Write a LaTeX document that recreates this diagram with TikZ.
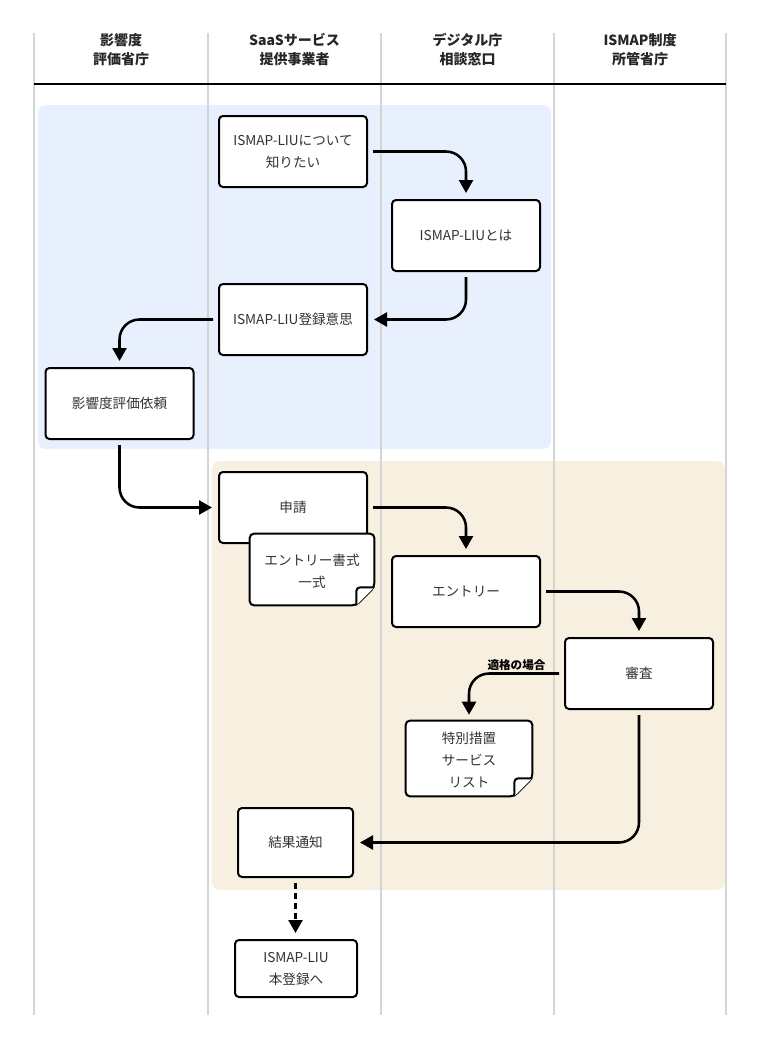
\documentclass[tikz,border=0pt]{standalone}
\usepackage{fontspec}
\setmainfont{Noto Sans CJK JP}
\usetikzlibrary{arrows.meta}
\newdimen\px \px=0.75pt
\definecolor{lanegray}{HTML}{D4D4D4}
\definecolor{phaseblue}{HTML}{E7F0FC}
\definecolor{phasetan}{HTML}{F7EFDF}
\definecolor{textgray}{HTML}{333333}

\begin{document}
\begin{tikzpicture}[x=0.75pt, y=-0.75pt,
>={Triangle[width=10.5pt,length=9.75pt]},
lanehead/.style={font=\fontsize{10.5pt}{14.3pt}\selectfont\bfseries, text=black!85, align=center},
every node/.style={font=\fontsize{10.2pt}{16.5pt}\selectfont, text=textgray, align=center}]
\tikzstyle{box} = [draw=black, fill=white, line width=1.5pt, rounded corners=4\px, minimum width=148\px, minimum height=71\px, inner sep=0pt]
\tikzstyle{docshape} = [inner sep=0pt]
\tikzstyle{docline} = [draw=black, fill=white, line width=1.5pt, rounded corners=4\px]
\tikzstyle{ar} = [->, line width=1.9pt, rounded corners=20\px, shorten <=5\px, shorten >=6\px]
\useasboundingbox (0,0) rectangle (760,1049);

% phases
\fill[phaseblue, rounded corners=8\px] (38,105) rectangle (551,449);
\fill[phasetan, rounded corners=8\px] (212,461) rectangle (725,890);

% lanes
\draw[lanegray, line width=0.8pt] (34,33) -- (34,1015);
\draw[lanegray, line width=0.8pt] (208,33) -- (208,1015);
\draw[lanegray, line width=0.8pt] (381,33) -- (381,1015);
\draw[lanegray, line width=0.8pt] (554,33) -- (554,1015);
\draw[lanegray, line width=0.8pt] (726,33) -- (726,1015);
\draw[black, line width=1pt] (34,84) -- (726,84);
\node[lanehead] (eval) at (121,49.5) {影響度\\評価省庁};
\node[lanehead] (saas) at (294.5,49.5) {SaaSサービス\\提供事業者};
\node[lanehead] (digi) at (467.5,49.5) {デジタル庁\\相談窓口};
\node[lanehead] (ismap) at (640,49.5) {ISMAP制度\\所管省庁};

\node[box] (know) at (293,151.5) {ISMAP-LIUについて\\知りたい};
\node[box] (what) at (466,235.5) {ISMAP-LIUとは};
\node[box] (will) at (293,319.5) {ISMAP-LIU登録意思};
\node[box] (req) at (119.5,403.5) {影響度評価依頼};
\node[box] (apply) at (293,507.5) {申請};

\node[docshape, minimum width=124\px, minimum height=71\px] (fmt) at (312,569.5) {};
\draw[docline] ([yshift=18\px]fmt.south east) -- (fmt.north east) -- (fmt.north west) -- (fmt.south west) -- ([xshift=-18\px]fmt.south east) -- cycle;
\draw[docline] ([yshift=18\px]fmt.south east) -- ([xshift=-18\px,yshift=18\px]fmt.south east) -- ([xshift=-18\px]fmt.south east);
\node (fmt-text) at ([yshift=-2\px]fmt) {エントリー書式\\一式};

\node[box] (entry) at (466,591.5) {エントリー};
\node[box] (audit) at (639,673.5) {審査};

\node[docshape, minimum width=126\px, minimum height=75\px] (list) at (469,758.5) {};
\draw[docline] ([yshift=18\px]list.south east) -- (list.north east) -- (list.north west) -- (list.south west) -- ([xshift=-18\px]list.south east) -- cycle;
\draw[docline] ([yshift=18\px]list.south east) -- ([xshift=-18\px,yshift=18\px]list.south east) -- ([xshift=-18\px]list.south east);
\node (list-text) at ([yshift=-2\px]list) {特別措置\\サービス\\リスト};

\node[box, minimum width=115\px, minimum height=69\px] (notice) at (295.5,842.5) {結果通知};
\node[box, minimum width=122\px, minimum height=57\px] (main) at (296,968.5) {ISMAP-LIU\\本登録へ};

\draw[ar] (know.east) -| (what.north);
\draw[ar] (what.south) |- (will.east);
\draw[ar] (will.west) -| (req.north);
\draw[ar] (req.south) |- (apply.west);
\draw[ar] (apply.east) -| (entry.north);
\draw[ar] (entry.east) -| (audit.north);
\draw[ar] (audit.west) -| (list.north) node[pos=0.25, above, inner sep=2\px, font=\fontsize{8.7pt}{10pt}\selectfont\bfseries, text=black] {適格の場合};
\draw[ar] (audit.south) |- (notice.east);
\draw[ar, dash pattern=on 6\px off 4\px] (notice.south) -- (notice.south |- main.north);

\end{tikzpicture}
\end{document}
